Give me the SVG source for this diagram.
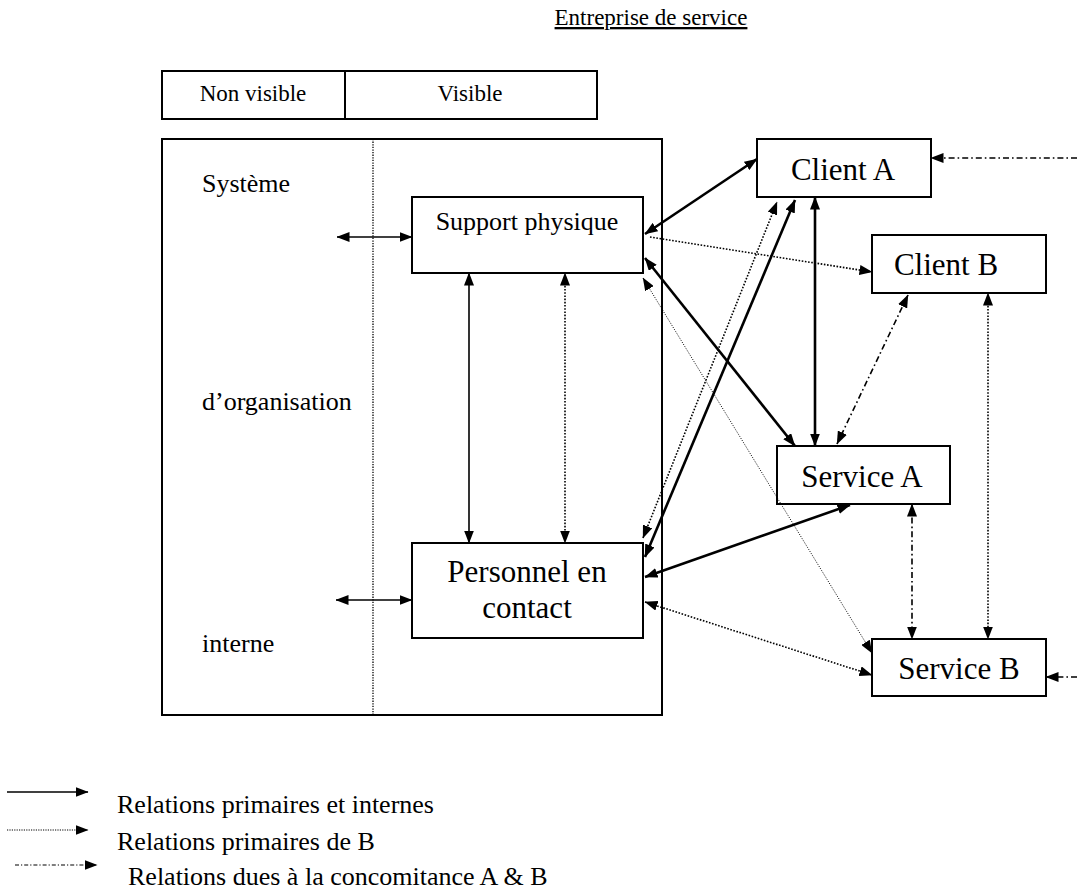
<svg xmlns="http://www.w3.org/2000/svg" width="1077" height="893" viewBox="0 0 1077 893" font-family="'Liberation Serif', 'Times New Roman', serif">
<style>
.box{fill:#fff;stroke:#000;stroke-width:2}
.frame{fill:none;stroke:#000;stroke-width:2}
.solid{fill:none;stroke:#000;stroke-width:2.6}
.med{fill:none;stroke:#000;stroke-width:1.6}
.dot{fill:none;stroke:#000;stroke-width:1.6;stroke-dasharray:1.6 1.6}
.fine{fill:none;stroke:#000;stroke-width:1;stroke-dasharray:1 1.5}
.dd{fill:none;stroke:#000;stroke-width:1.6;stroke-dasharray:6 3 1.6 3}
.t23{font-family:"Liberation Serif",serif;font-size:23px}
.t26{font-family:"Liberation Serif",serif;font-size:26px}
.t31{font-family:"Liberation Serif",serif;font-size:31px}
</style>
<defs>
<marker id="ah" viewBox="0 0 13 10" refX="12.5" refY="5" markerWidth="13" markerHeight="10" markerUnits="userSpaceOnUse" orient="auto-start-reverse">
<path d="M0,0 L13,5 L0,10 z" fill="#000"/>
</marker>
</defs>

<g id="title">
<text class="t23" x="651" y="25" text-anchor="middle" text-decoration="underline">Entreprise de service</text>
</g>

<g id="header">
<rect class="frame" x="162" y="71" width="435" height="48"/>
<line x1="345" y1="71" x2="345" y2="119" stroke="#000" stroke-width="2"/>
<text class="t23" x="253" y="101" text-anchor="middle">Non visible</text>
<text class="t23" x="470" y="101" text-anchor="middle">Visible</text>
</g>

<g id="organisation">
<rect class="frame" x="162" y="139" width="500" height="576"/>
<line x1="373" y1="139" x2="373" y2="715" stroke="#000" stroke-width="1.3" stroke-dasharray="1.3 1.3"/>
<text class="t26" x="202" y="192">Système</text>
<text class="t26" x="202" y="410">d’organisation</text>
<text class="t26" x="202" y="652">interne</text>
</g>

<g id="support">
<rect class="box" x="412" y="197" width="231" height="76"/>
<text class="t26" x="527" y="230" text-anchor="middle">Support physique</text>
</g>

<g id="personnel">
<rect class="box" x="412" y="543" width="231" height="95"/>
<text class="t31" x="527" y="582" text-anchor="middle">Personnel en</text>
<text class="t31" x="527" y="618" text-anchor="middle">contact</text>
</g>

<g id="clientA">
<rect class="box" x="757" y="139" width="174" height="58"/>
<text class="t31" x="843" y="180" text-anchor="middle">Client A</text>
</g>

<g id="clientB">
<rect class="box" x="872" y="235" width="174" height="58"/>
<text class="t31" x="946" y="275" text-anchor="middle">Client B</text>
</g>

<g id="serviceA">
<rect class="box" x="777" y="446" width="173" height="58"/>
<text class="t31" x="862" y="487" text-anchor="middle">Service A</text>
</g>

<g id="serviceB">
<rect class="box" x="872" y="639" width="174" height="57"/>
<text class="t31" x="959" y="679" text-anchor="middle">Service B</text>
</g>

<g id="connectors">
<line class="med" x1="337" y1="237" x2="412" y2="237" marker-start="url(#ah)" marker-end="url(#ah)"/>
<line class="med" x1="336" y1="600" x2="412" y2="600" marker-start="url(#ah)" marker-end="url(#ah)"/>
<line class="med" x1="469" y1="273" x2="469" y2="543" marker-start="url(#ah)" marker-end="url(#ah)"/>
<line class="dot" x1="565" y1="273" x2="565" y2="543" marker-start="url(#ah)" marker-end="url(#ah)"/>
<line class="solid" x1="645" y1="234" x2="757" y2="159" marker-start="url(#ah)" marker-end="url(#ah)"/>
<line class="dot" x1="650" y1="237" x2="872" y2="272" marker-end="url(#ah)"/>
<line class="solid" x1="645" y1="258" x2="795" y2="446" marker-start="url(#ah)" marker-end="url(#ah)"/>
<line class="fine" x1="643" y1="278" x2="872" y2="653" marker-start="url(#ah)" marker-end="url(#ah)"/>
<line class="dot" x1="643" y1="538" x2="777" y2="202" marker-start="url(#ah)" marker-end="url(#ah)"/>
<line class="solid" x1="645" y1="557" x2="795" y2="200" marker-start="url(#ah)" marker-end="url(#ah)"/>
<line class="solid" x1="815" y1="197" x2="815" y2="446" marker-start="url(#ah)" marker-end="url(#ah)"/>
<line class="dd" x1="908" y1="295" x2="837" y2="444" marker-start="url(#ah)" marker-end="url(#ah)"/>
<line class="dot" x1="988" y1="293" x2="988" y2="639" marker-start="url(#ah)" marker-end="url(#ah)"/>
<line class="dd" x1="912" y1="504" x2="912" y2="639" marker-start="url(#ah)" marker-end="url(#ah)"/>
<line class="solid" x1="850" y1="505" x2="645" y2="577" marker-start="url(#ah)" marker-end="url(#ah)"/>
<line class="dot" x1="645" y1="602" x2="872" y2="675" marker-start="url(#ah)" marker-end="url(#ah)"/>
<line class="dd" x1="1077" y1="158" x2="931" y2="158" marker-end="url(#ah)"/>
<line class="dd" x1="1077" y1="677" x2="1046" y2="677" marker-end="url(#ah)"/>
</g>

<g id="legend">
<line class="med" x1="7" y1="792" x2="88" y2="792" marker-end="url(#ah)"/>
<line x1="7" y1="830" x2="88" y2="830" stroke="#000" stroke-width="1.2" stroke-dasharray="1.2 1.2" marker-end="url(#ah)"/>
<line x1="15" y1="865" x2="97" y2="865" stroke="#000" stroke-width="1.2" stroke-dasharray="4 2 1.2 2" marker-end="url(#ah)"/>
<text class="t26" x="117" y="813">Relations primaires et internes</text>
<text class="t26" x="117" y="850">Relations primaires de B</text>
<text class="t26" x="128" y="885">Relations dues à la concomitance A &amp; B</text>
</g>
</svg>
